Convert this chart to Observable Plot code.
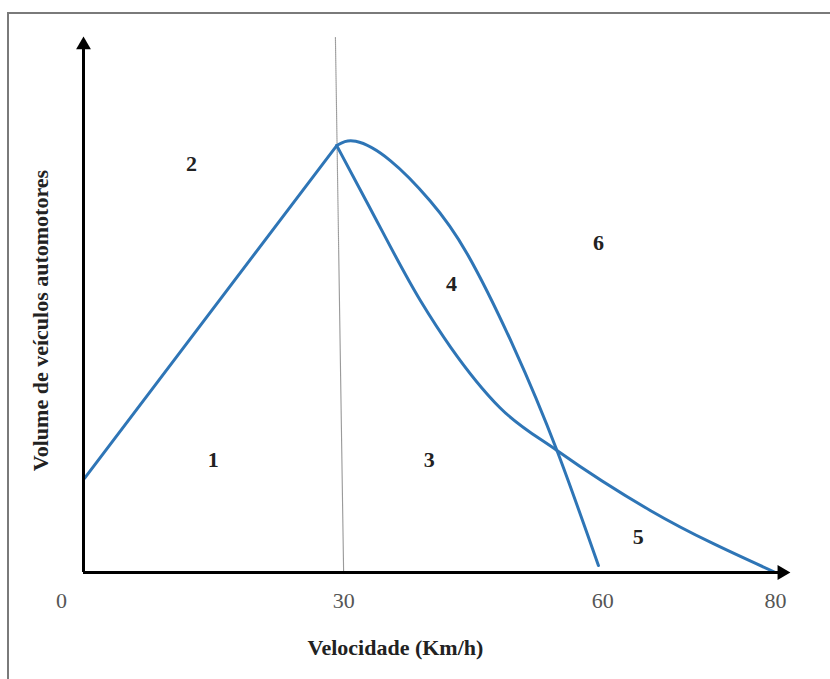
<!DOCTYPE html>
<html>
<head>
<meta charset="utf-8">
<script src="https://cdn.jsdelivr.net/npm/d3@7"></script>
<script src="https://cdn.jsdelivr.net/npm/@observablehq/plot@0.6"></script>
<style>
  html, body { margin: 0; padding: 0; background: #fff; }
  #wrap { position: relative; width: 830px; height: 679px; overflow: hidden; }
  #border { position: absolute; left: 7px; top: 12px; width: 840px; height: 700px;
            border-top: 2px solid #7a7a7a; border-left: 2px solid #7a7a7a; pointer-events: none; }
</style>
</head>
<body>
<div id="wrap"><div id="border"></div></div>
<script>
// Curva 1-2: linha reta ascendente até o pico
const rise = [
  {v: 0, q: 17.6},
  {v: 29.2, q: 79.8}
];
// Curva 3-5: convexa descendente até 80 km/h
const fallConvex = [
  {v: 29.2, q: 79.8},
  {v: 32.6, q: 69.5},
  {v: 38.9, q: 50.8},
  {v: 42.4, q: 42.1},
  {v: 48.1, q: 30.8},
  {v: 54.7, q: 22.8},
  {v: 65.5, q: 11.6},
  {v: 80, q: 0}
];
// Curva 4-6: côncava descendente até 60 km/h
const fallConcave = [
  {v: 29.2, q: 79.8},
  {v: 31.4, q: 80.6},
  {v: 35.4, q: 77},
  {v: 40, q: 69.5},
  {v: 44.3, q: 59.6},
  {v: 49.7, q: 42.1},
  {v: 54.7, q: 22.8},
  {v: 59.5, q: 1.3}
];
// Linha pontilhada vertical (30 km/h)
const guide = [
  {v: 29.05, q: 100},
  {v: 30, q: 0}
];
// Rótulos das regiões
const regions = [
  {label: "1", v: 14.9, q: 21},
  {label: "2", v: 12.4, q: 76.4},
  {label: "3", v: 39.9, q: 21},
  {label: "4", v: 42.5, q: 54},
  {label: "5", v: 64.1, q: 6.6},
  {label: "6", v: 59.5, q: 61.6}
];
const xTicks = [30, 60, 80];
const xTickZero = [0];
const xTitle = "Velocidade (Km/h)";
const yTitle = "Volume de veículos automotores";

const blue = "#2e75b6";
const font = "Liberation Serif";

const chart = Plot.plot({
  width: 830,
  height: 679,
  marginLeft: 84,
  marginRight: 55,
  marginTop: 37,
  marginBottom: 107,
  x: {domain: [0, 80], axis: null},
  y: {domain: [0, 100], axis: null},
  style: {fontFamily: font, background: "transparent"},
  marks: [
    Plot.line(guide, {x: "v", y: "q", stroke: "#9a9a9a", strokeWidth: 1.2, strokeDasharray: "1,1"}),
    Plot.line(rise, {x: "v", y: "q", stroke: blue, strokeWidth: 3}),
    Plot.line(fallConvex, {x: "v", y: "q", stroke: blue, strokeWidth: 3, curve: "monotone-x"}),
    Plot.line(fallConcave, {x: "v", y: "q", stroke: blue, strokeWidth: 3, curve: "natural"}),
    // eixos
    Plot.ruleY([0], {x1: 0, x2: 80.6, stroke: "black", strokeWidth: 3, dx: -1}),
    Plot.ruleX([0], {y1: 0, y2: 98.2, stroke: "black", strokeWidth: 3, dx: -1}),
    Plot.dot([{v: 80.85, q: 0}], {x: "v", y: "q", symbol: "triangle", r: 5.5, fill: "black", rotate: 90, dx: -1}),
    Plot.dot([{v: 0, q: 98.6}], {x: "v", y: "q", symbol: "triangle", r: 5.5, fill: "black", dx: -1}),
    Plot.axisX(xTicks, {tickSize: 0, tickPadding: 20, fontSize: 22, fill: "#555", label: null, fontFamily: font}),
    Plot.axisX(xTickZero, {tickSize: 0, tickPadding: 20, fontSize: 22, fill: "#555", label: null, dx: -23, fontFamily: font}),
    Plot.text([xTitle], {x: () => 36, frameAnchor: "bottom", dy: 82, text: d => d, fontSize: 22, fontWeight: "bold", fill: "#222", fontFamily: font}),
    Plot.text([yTitle], {y: () => 47.1, frameAnchor: "left", textAnchor: "middle", dx: -44, rotate: -90, text: d => d, fontSize: 22, fontWeight: "bold", fill: "#222", fontFamily: font}),
    Plot.text(regions, {x: "v", y: "q", text: "label", fontSize: 22, fontWeight: "bold", fill: "#222", fontFamily: font})
  ]
});
document.getElementById("wrap").appendChild(chart);
</script>
</body>
</html>
